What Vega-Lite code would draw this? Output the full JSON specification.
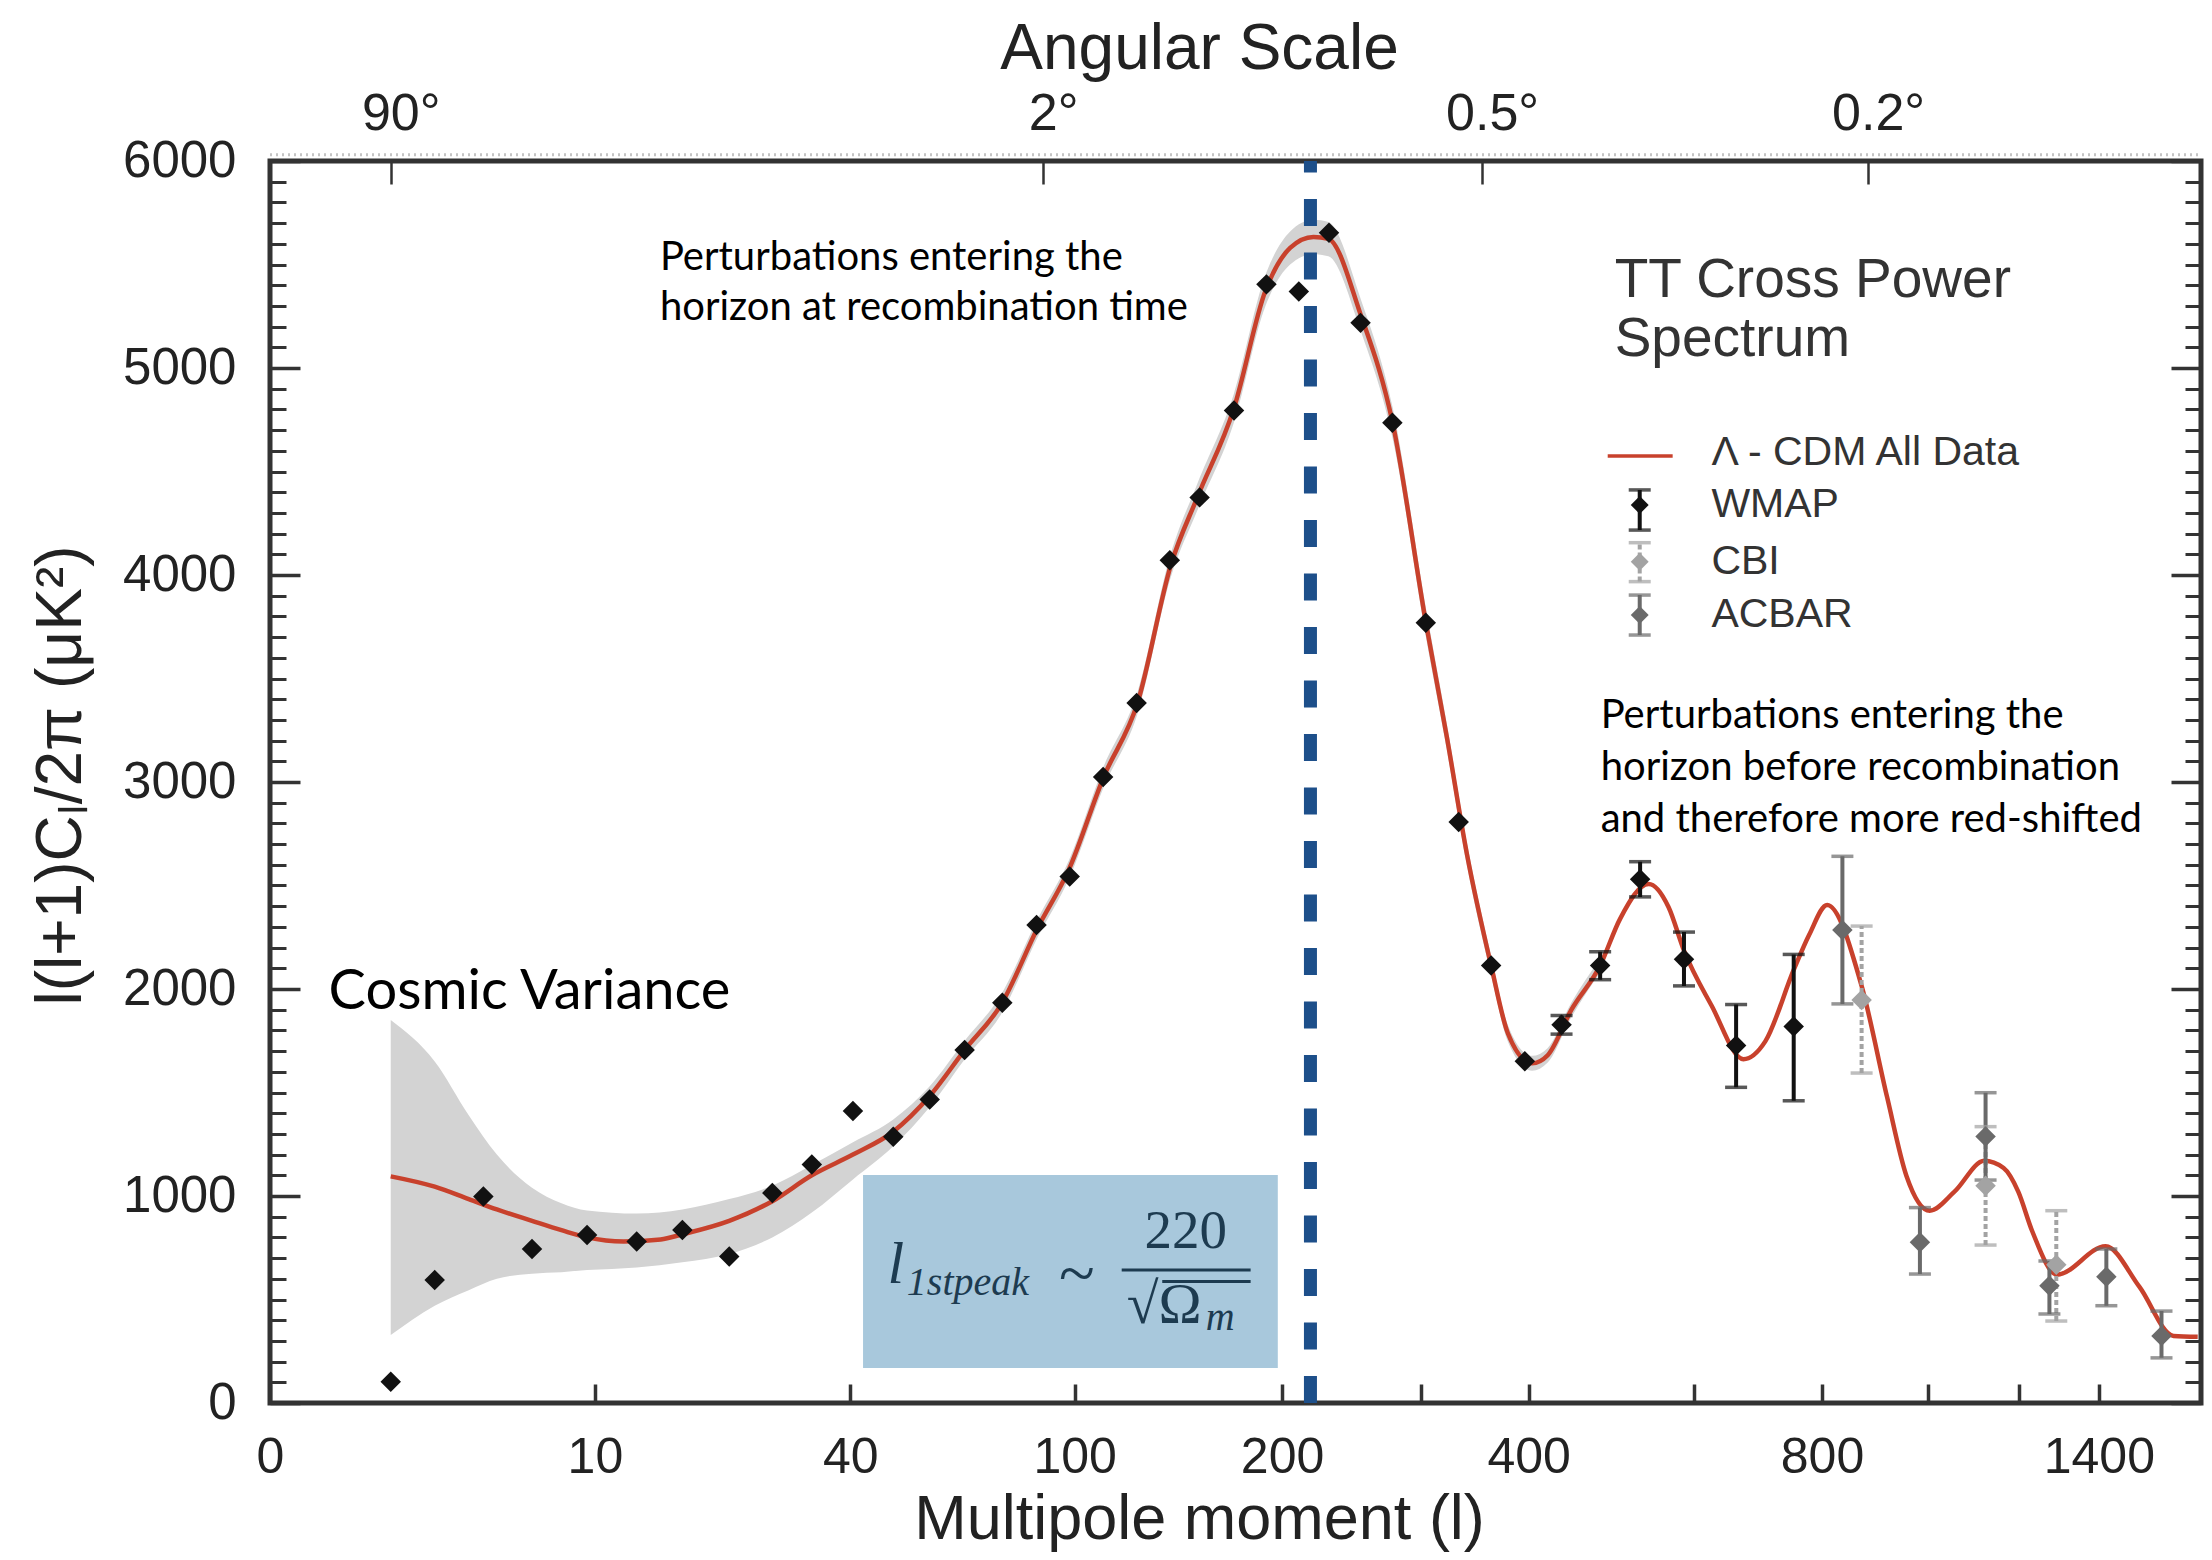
{
  "$schema": "https://vega.github.io/schema/vega-lite/v6.json",
  "width": 1931,
  "height": 1242,
  "autosize": {"type": "none"},
  "padding": {"left": 270, "top": 161, "right": 11, "bottom": 157},
  "background": "white",
  "config": {
    "view": {"stroke": "#333333", "strokeWidth": 5},
    "axis": {"grid": false, "domain": false, "labelFont": "Liberation Sans", "titleFont": "Liberation Sans", "labelColor": "#222222", "titleColor": "#222222", "tickColor": "#333333", "labelOverlap": false, "labelFlush": false, "titleFontWeight": "normal"}
  },
  "datasets": {
    "theory": [
      {"l": 2, "v": 1095}, {"l": 3, "v": 1045}, {"l": 4, "v": 985}, {"l": 5, "v": 935}, {"l": 6.5, "v": 880},
      {"l": 8, "v": 835}, {"l": 9.5, "v": 800}, {"l": 12, "v": 780}, {"l": 15, "v": 790}, {"l": 17, "v": 815},
      {"l": 22, "v": 880}, {"l": 27.5, "v": 975}, {"l": 33.4, "v": 1100}, {"l": 40.5, "v": 1200}, {"l": 48.5, "v": 1311},
      {"l": 56.7, "v": 1483}, {"l": 65.5, "v": 1705}, {"l": 76, "v": 1932}, {"l": 87, "v": 2290}, {"l": 98, "v": 2580},
      {"l": 111, "v": 3024}, {"l": 125, "v": 3382}, {"l": 140, "v": 4048}, {"l": 153, "v": 4379}, {"l": 172, "v": 4804},
      {"l": 190, "v": 5373}, {"l": 205, "v": 5580}, {"l": 220, "v": 5633}, {"l": 230, "v": 5624}, {"l": 253, "v": 5253},
      {"l": 277, "v": 4735}, {"l": 304, "v": 3769}, {"l": 322, "v": 3217}, {"l": 340, "v": 2650}, {"l": 362.6, "v": 2113},
      {"l": 379, "v": 1785}, {"l": 403.5, "v": 1641}, {"l": 420, "v": 1680}, {"l": 446, "v": 1900}, {"l": 479, "v": 2113},
      {"l": 503, "v": 2339}, {"l": 539, "v": 2507}, {"l": 565, "v": 2396}, {"l": 586, "v": 2186}, {"l": 625, "v": 1919},
      {"l": 672, "v": 1661}, {"l": 706, "v": 1747}, {"l": 752, "v": 2092}, {"l": 778, "v": 2262}, {"l": 809, "v": 2406},
      {"l": 871, "v": 2015}, {"l": 919, "v": 1479}, {"l": 957, "v": 1097}, {"l": 1004, "v": 929}, {"l": 1056, "v": 1021},
      {"l": 1121, "v": 1170}, {"l": 1165, "v": 1135}, {"l": 1199, "v": 1021}, {"l": 1232, "v": 831}, {"l": 1293, "v": 620},
      {"l": 1418, "v": 757}, {"l": 1510, "v": 562}, {"l": 1608, "v": 324}, {"l": 1680, "v": 320}
    ],
    "band": [
      {"l": 2, "lo": 328, "hi": 1850}, {"l": 3, "lo": 470, "hi": 1650}, {"l": 4, "lo": 545, "hi": 1390}, {"l": 5, "lo": 600, "hi": 1200},
      {"l": 6.5, "lo": 625, "hi": 1040}, {"l": 8, "lo": 632, "hi": 965}, {"l": 9.5, "lo": 642, "hi": 930}, {"l": 13, "lo": 655, "hi": 915},
      {"l": 17, "lo": 680, "hi": 935}, {"l": 22, "lo": 720, "hi": 985}, {"l": 27.5, "lo": 800, "hi": 1050}, {"l": 33.4, "lo": 920, "hi": 1150},
      {"l": 40.5, "lo": 1080, "hi": 1260}, {"l": 48.5, "lo": 1240, "hi": 1370}, {"l": 56.7, "lo": 1430, "hi": 1530}, {"l": 65.5, "lo": 1660, "hi": 1750},
      {"l": 76, "lo": 1885, "hi": 1980}, {"l": 87, "lo": 2245, "hi": 2335}, {"l": 98, "lo": 2535, "hi": 2625}, {"l": 111, "lo": 2975, "hi": 3075},
      {"l": 125, "lo": 3330, "hi": 3435}, {"l": 140, "lo": 3990, "hi": 4105}, {"l": 153, "lo": 4315, "hi": 4445}, {"l": 172, "lo": 4735, "hi": 4875},
      {"l": 190, "lo": 5300, "hi": 5450}, {"l": 205, "lo": 5500, "hi": 5660}, {"l": 220, "lo": 5550, "hi": 5716}, {"l": 230, "lo": 5540, "hi": 5705},
      {"l": 253, "lo": 5175, "hi": 5330}, {"l": 277, "lo": 4660, "hi": 4810}, {"l": 304, "lo": 3700, "hi": 3840}, {"l": 322, "lo": 3155, "hi": 3280},
      {"l": 340, "lo": 2595, "hi": 2705}, {"l": 362.6, "lo": 2065, "hi": 2160}, {"l": 379, "lo": 1745, "hi": 1825}, {"l": 403.5, "lo": 1605, "hi": 1677},
      {"l": 420, "lo": 1645, "hi": 1715}, {"l": 446, "lo": 1865, "hi": 1935}, {"l": 479, "lo": 2080, "hi": 2146}
    ],
    "pts": [
      {"exp": "WMAP", "l": 2, "v": 103}, {"exp": "WMAP", "l": 3, "v": 594}, {"exp": "WMAP", "l": 4.5, "v": 997},
      {"exp": "WMAP", "l": 6.5, "v": 744}, {"exp": "WMAP", "l": 9.5, "v": 812}, {"exp": "WMAP", "l": 13, "v": 780},
      {"exp": "WMAP", "l": 17, "v": 836}, {"exp": "WMAP", "l": 22, "v": 708}, {"exp": "WMAP", "l": 27.5, "v": 1014},
      {"exp": "WMAP", "l": 33.4, "v": 1152}, {"exp": "WMAP", "l": 40.5, "v": 1411}, {"exp": "WMAP", "l": 48.5, "v": 1286},
      {"exp": "WMAP", "l": 56.7, "v": 1466}, {"exp": "WMAP", "l": 65.5, "v": 1705}, {"exp": "WMAP", "l": 76.1, "v": 1934},
      {"exp": "WMAP", "l": 86.8, "v": 2309}, {"exp": "WMAP", "l": 98.2, "v": 2543}, {"exp": "WMAP", "l": 110.8, "v": 3024},
      {"exp": "WMAP", "l": 124.6, "v": 3382}, {"exp": "WMAP", "l": 139.5, "v": 4071}, {"exp": "WMAP", "l": 154, "v": 4375},
      {"exp": "WMAP", "l": 172.1, "v": 4795}, {"exp": "WMAP", "l": 190.6, "v": 5404}, {"exp": "WMAP", "l": 210.5, "v": 5370},
      {"exp": "WMAP", "l": 230.4, "v": 5653}, {"exp": "WMAP", "l": 252.7, "v": 5218}, {"exp": "WMAP", "l": 276.8, "v": 4735},
      {"exp": "WMAP", "l": 303.9, "v": 3769}, {"exp": "WMAP", "l": 332.5, "v": 2807}, {"exp": "WMAP", "l": 362.6, "v": 2113},
      {"exp": "WMAP", "l": 396, "v": 1651},
      {"exp": "WMAP", "l": 435, "v": 1827, "lo": 1782, "hi": 1872}, {"exp": "WMAP", "l": 479, "v": 2113, "lo": 2045, "hi": 2180},
      {"exp": "WMAP", "l": 528, "v": 2530, "lo": 2445, "hi": 2615}, {"exp": "WMAP", "l": 586, "v": 2144, "lo": 2015, "hi": 2275},
      {"exp": "WMAP", "l": 661, "v": 1727, "lo": 1525, "hi": 1925}, {"exp": "WMAP", "l": 752, "v": 1819, "lo": 1460, "hi": 2167},
      {"exp": "ACBAR", "l": 836, "v": 2285, "lo": 1928, "hi": 2641}, {"exp": "CBI", "l": 871, "v": 1947, "lo": 1594, "hi": 2304},
      {"exp": "ACBAR", "l": 984, "v": 776, "lo": 623, "hi": 944}, {"exp": "CBI", "l": 1124, "v": 1049, "lo": 763, "hi": 1335},
      {"exp": "ACBAR", "l": 1124, "v": 1288, "lo": 1077, "hi": 1499}, {"exp": "ACBAR", "l": 1274, "v": 566, "lo": 430, "hi": 686},
      {"exp": "CBI", "l": 1291, "v": 668, "lo": 396, "hi": 929}, {"exp": "ACBAR", "l": 1420, "v": 610, "lo": 470, "hi": 744},
      {"exp": "ACBAR", "l": 1573, "v": 324, "lo": 218, "hi": 444}
    ],
    "legsym": [
      {"exp": "WMAP", "l": 527.5, "v": 4338, "lo": 4217, "hi": 4411},
      {"exp": "CBI", "l": 527.5, "v": 4064, "lo": 3968, "hi": 4156},
      {"exp": "ACBAR", "l": 527.5, "v": 3807, "lo": 3710, "hi": 3903}
    ],
    "legtext": [
      {"l": 624.6, "v": 4589, "text": "Λ - CDM All Data"},
      {"l": 624.6, "v": 4338, "text": "WMAP"},
      {"l": 624.6, "v": 4064, "text": "CBI"},
      {"l": 624.6, "v": 3807, "text": "ACBAR"}
    ]
  },
  "resolve": {"axis": {"x": "independent", "y": "independent"}},
  "layer": [
    {
      "data": {"values": [{"l1": 0.5, "l2": 1690, "v": 6030}]},
      "mark": {"type": "rule", "color": "#c4c4c4", "strokeWidth": 3, "strokeDash": [2, 4]},
      "encoding": {
        "x": {"field": "l1", "type": "quantitative", "scale": {"type": "pow", "exponent": 0.25, "domain": [0.5, 1690], "nice": false, "zero": false}, "axis": null},
        "x2": {"field": "l2"},
        "y": {"field": "v", "type": "quantitative", "scale": {"domain": [0, 6000], "nice": false, "zero": false}, "axis": null}
      }
    },
    {
      "data": {"name": "band"},
      "mark": {"type": "area", "color": "#d3d3d3", "interpolate": "monotone"},
      "encoding": {
        "x": {"field": "l", "type": "quantitative", "scale": {"type": "pow", "exponent": 0.25, "domain": [0.5, 1690], "nice": false, "zero": false},
          "axis": {"orient": "bottom", "values": [0.5, 10, 40, 100, 200, 300, 400, 600, 800, 1000, 1200, 1400], "format": "d",
            "labelExpr": "datum.value < 1 ? '0' : (datum.value == 300 || datum.value == 600 || datum.value == 1000 || datum.value == 1200) ? '' : datum.label",
            "tickSize": -19, "tickWidth": 3.5, "labelPadding": 48, "labelFontSize": 50,
            "title": "Multipole moment (l)", "titleFontSize": 63, "titleX": 929, "titleY": 135, "titleBaseline": "alphabetic", "titleAlign": "center"}},
        "y": {"field": "lo", "type": "quantitative", "scale": {"domain": [0, 6000], "nice": false, "zero": false},
          "axis": {"orient": "left", "values": [0, 1000, 2000, 3000, 4000, 5000, 6000], "format": "d", "tickSize": -30, "tickWidth": 3.5, "labelPadding": 64, "labelFontSize": 51,
            "title": "l(l+1)Cₗ/2π (μK²)", "titleFontSize": 64, "titleX": -190, "titleY": 614, "titleAngle": -90, "titleBaseline": "alphabetic", "titleAlign": "center"}},
        "y2": {"field": "hi"}
      }
    },
    {
      "data": {"name": "theory"},
      "mark": {"type": "line", "color": "#c8412c", "strokeWidth": 4.5, "interpolate": "monotone"},
      "encoding": {
        "x": {"field": "l", "type": "quantitative", "scale": {"type": "pow", "exponent": 0.25, "domain": [0.5, 1690], "nice": false, "zero": false},
          "axis": {"orient": "top", "values": [2, 89, 354, 883],
            "labelExpr": "datum.value == 2 ? '90°' : datum.value == 89 ? '2°' : datum.value == 354 ? '0.5°' : '0.2°'",
            "tickSize": -23, "tickWidth": 2.5, "labelPadding": 44, "labelFontSize": 52, "labelOffset": 10,
            "title": "Angular Scale", "titleFontSize": 64, "titleX": 929, "titleY": -93, "titleBaseline": "alphabetic", "titleAlign": "center"}},
        "y": {"field": "v", "type": "quantitative", "scale": {"domain": [0, 6000], "nice": false, "zero": false},
          "axis": {"orient": "left", "values": [100,200,300,400,500,600,700,800,900,1100,1200,1300,1400,1500,1600,1700,1800,1900,2100,2200,2300,2400,2500,2600,2700,2800,2900,3100,3200,3300,3400,3500,3600,3700,3800,3900,4100,4200,4300,4400,4500,4600,4700,4800,4900,5100,5200,5300,5400,5500,5600,5700,5800,5900],
            "labels": false, "tickSize": -16, "tickWidth": 3, "title": null}}
      }
    },
    {
      "data": {"name": "pts"},
      "mark": {"type": "rule", "strokeWidth": 4},
      "encoding": {
        "x": {"field": "l", "type": "quantitative", "scale": {"type": "pow", "exponent": 0.25, "domain": [0.5, 1690], "nice": false, "zero": false}, "axis": null},
        "y": {"field": "lo", "type": "quantitative", "scale": {"domain": [0, 6000], "nice": false, "zero": false},
          "axis": {"orient": "right", "values": [0, 1000, 2000, 3000, 4000, 5000, 6000], "labels": false, "tickSize": -30, "tickWidth": 3.5, "title": null}},
        "y2": {"field": "hi"},
        "color": {"field": "exp", "type": "nominal", "scale": {"domain": ["WMAP", "CBI", "ACBAR"], "range": ["#111111", "#a3a3a3", "#6a6a6a"]}, "legend": null},
        "strokeDash": {"field": "exp", "type": "nominal", "scale": {"domain": ["WMAP", "CBI", "ACBAR"], "range": [[1, 0], [5, 3], [1, 0]]}, "legend": null}
      }
    },
    {
      "data": {"name": "pts"},
      "mark": {"type": "tick", "orient": "horizontal", "size": 22, "thickness": 3.5},
      "encoding": {
        "x": {"field": "l", "type": "quantitative", "scale": {"type": "pow", "exponent": 0.25, "domain": [0.5, 1690], "nice": false, "zero": false}, "axis": null},
        "y": {"field": "hi", "type": "quantitative", "scale": {"domain": [0, 6000], "nice": false, "zero": false},
          "axis": {"orient": "right", "values": [100,200,300,400,500,600,700,800,900,1100,1200,1300,1400,1500,1600,1700,1800,1900,2100,2200,2300,2400,2500,2600,2700,2800,2900,3100,3200,3300,3400,3500,3600,3700,3800,3900,4100,4200,4300,4400,4500,4600,4700,4800,4900,5100,5200,5300,5400,5500,5600,5700,5800,5900],
            "labels": false, "tickSize": -16, "tickWidth": 3, "title": null}},
        "color": {"field": "exp", "type": "nominal", "scale": {"domain": ["WMAP", "CBI", "ACBAR"], "range": ["#111111", "#a3a3a3", "#6a6a6a"]}, "legend": null}
      }
    },
    {
      "data": {"name": "pts"},
      "mark": {"type": "tick", "orient": "horizontal", "size": 22, "thickness": 3.5},
      "encoding": {
        "x": {"field": "l", "type": "quantitative", "scale": {"type": "pow", "exponent": 0.25, "domain": [0.5, 1690], "nice": false, "zero": false}, "axis": null},
        "y": {"field": "lo", "type": "quantitative", "scale": {"domain": [0, 6000], "nice": false, "zero": false}, "axis": null},
        "color": {"field": "exp", "type": "nominal", "scale": {"domain": ["WMAP", "CBI", "ACBAR"], "range": ["#111111", "#a3a3a3", "#6a6a6a"]}, "legend": null}
      }
    },
    {
      "data": {"name": "pts"},
      "mark": {"type": "point", "shape": "diamond", "filled": true, "size": 420, "opacity": 1},
      "encoding": {
        "x": {"field": "l", "type": "quantitative", "scale": {"type": "pow", "exponent": 0.25, "domain": [0.5, 1690], "nice": false, "zero": false}, "axis": null},
        "y": {"field": "v", "type": "quantitative", "scale": {"domain": [0, 6000], "nice": false, "zero": false}, "axis": null},
        "color": {"field": "exp", "type": "nominal", "scale": {"domain": ["WMAP", "CBI", "ACBAR"], "range": ["#111111", "#a3a3a3", "#6a6a6a"]}, "legend": null}
      }
    },
    {
      "data": {"values": [{"l": 218, "v0": 0, "v1": 6000}]},
      "mark": {"type": "rule", "color": "#1d4f8a", "strokeWidth": 13, "strokeDash": [27, 26.5]},
      "encoding": {
        "x": {"field": "l", "type": "quantitative", "scale": {"type": "pow", "exponent": 0.25, "domain": [0.5, 1690], "nice": false, "zero": false}, "axis": null},
        "y": {"field": "v0", "type": "quantitative", "scale": {"domain": [0, 6000], "nice": false, "zero": false}, "axis": null},
        "y2": {"field": "v1"}
      }
    },
    {
      "data": {"values": [{"l1": 42.4, "l2": 197.4, "v1": 169, "v2": 1101}]},
      "mark": {"type": "rect", "color": "#a8c8dc"},
      "encoding": {
        "x": {"field": "l1", "type": "quantitative", "scale": {"type": "pow", "exponent": 0.25, "domain": [0.5, 1690], "nice": false, "zero": false}, "axis": null},
        "x2": {"field": "l2"},
        "y": {"field": "v1", "type": "quantitative", "scale": {"domain": [0, 6000], "nice": false, "zero": false}, "axis": null},
        "y2": {"field": "v2"}
      }
    },
    {
      "data": {"values": [{"l1": 118.3, "l2": 181.4, "v": 643}, {"l1": 136, "l2": 181.4, "v": 587}]},
      "mark": {"type": "rule", "color": "#1d3b50", "strokeWidth": 3},
      "encoding": {
        "x": {"field": "l1", "type": "quantitative", "scale": {"type": "pow", "exponent": 0.25, "domain": [0.5, 1690], "nice": false, "zero": false}, "axis": null},
        "x2": {"field": "l2"},
        "y": {"field": "v", "type": "quantitative", "scale": {"domain": [0, 6000], "nice": false, "zero": false}, "axis": null}
      }
    },
    {
      "data": {"values": [{"l": 49.05, "v": 580, "text": "l"}]},
      "mark": {"type": "text", "font": "Liberation Serif", "fontStyle": "italic", "fontSize": 60, "color": "#1d3b50", "align": "center", "baseline": "alphabetic"},
      "encoding": {
        "x": {"field": "l", "type": "quantitative", "scale": {"type": "pow", "exponent": 0.25, "domain": [0.5, 1690], "nice": false, "zero": false}, "axis": null},
        "y": {"field": "v", "type": "quantitative", "scale": {"domain": [0, 6000], "nice": false, "zero": false}, "axis": null},
        "text": {"field": "text"}
      }
    },
    {
      "data": {"values": [{"l": 51.44, "v": 522, "text": "1stpeak"}, {"l": 157.1, "v": 353, "text": "m"}]},
      "mark": {"type": "text", "font": "Liberation Serif", "fontStyle": "italic", "fontSize": 40, "color": "#1d3b50", "align": "left", "baseline": "alphabetic"},
      "encoding": {
        "x": {"field": "l", "type": "quantitative", "scale": {"type": "pow", "exponent": 0.25, "domain": [0.5, 1690], "nice": false, "zero": false}, "axis": null},
        "y": {"field": "v", "type": "quantitative", "scale": {"domain": [0, 6000], "nice": false, "zero": false}, "axis": null},
        "text": {"field": "text"}
      }
    },
    {
      "data": {"values": [{"l": 100.8, "v": 620, "text": "~"}]},
      "mark": {"type": "text", "font": "Liberation Serif", "fontSize": 66, "color": "#1d3b50", "align": "center", "baseline": "middle"},
      "encoding": {
        "x": {"field": "l", "type": "quantitative", "scale": {"type": "pow", "exponent": 0.25, "domain": [0.5, 1690], "nice": false, "zero": false}, "axis": null},
        "y": {"field": "v", "type": "quantitative", "scale": {"domain": [0, 6000], "nice": false, "zero": false}, "axis": null},
        "text": {"field": "text"}
      }
    },
    {
      "data": {"values": [{"l": 147.1, "v": 749, "text": "220"}]},
      "mark": {"type": "text", "font": "Liberation Serif", "fontSize": 55, "color": "#1d3b50", "align": "center", "baseline": "alphabetic"},
      "encoding": {
        "x": {"field": "l", "type": "quantitative", "scale": {"type": "pow", "exponent": 0.25, "domain": [0.5, 1690], "nice": false, "zero": false}, "axis": null},
        "y": {"field": "v", "type": "quantitative", "scale": {"domain": [0, 6000], "nice": false, "zero": false}, "axis": null},
        "text": {"field": "text"}
      }
    },
    {
      "data": {"values": [{"l": 120.4, "v": 386, "text": "√Ω"}]},
      "mark": {"type": "text", "font": "Liberation Serif", "fontSize": 58, "color": "#1d3b50", "align": "left", "baseline": "alphabetic"},
      "encoding": {
        "x": {"field": "l", "type": "quantitative", "scale": {"type": "pow", "exponent": 0.25, "domain": [0.5, 1690], "nice": false, "zero": false}, "axis": null},
        "y": {"field": "v", "type": "quantitative", "scale": {"domain": [0, 6000], "nice": false, "zero": false}, "axis": null},
        "text": {"field": "text"}
      }
    },
    {
      "data": {"values": [
        {"l": 14.93, "v": 5473, "text": "Perturbations entering the"},
        {"l": 14.93, "v": 5232, "text": "horizon at recombination time"},
        {"l": 479.6, "v": 3262, "text": "Perturbations entering the"},
        {"l": 479.6, "v": 3011, "text": "horizon before recombination"},
        {"l": 479.6, "v": 2760, "text": "and therefore more red-shifted"}
      ]},
      "mark": {"type": "text", "font": "Lato", "fontSize": 40, "color": "#000000", "align": "left", "baseline": "alphabetic"},
      "encoding": {
        "x": {"field": "l", "type": "quantitative", "scale": {"type": "pow", "exponent": 0.25, "domain": [0.5, 1690], "nice": false, "zero": false}, "axis": null},
        "y": {"field": "v", "type": "quantitative", "scale": {"domain": [0, 6000], "nice": false, "zero": false}, "axis": null},
        "text": {"field": "text"}
      }
    },
    {
      "data": {"values": [{"l": 1.04, "v": 1903, "text": "Cosmic Variance"}]},
      "mark": {"type": "text", "font": "Lato", "fontSize": 56, "color": "#000000", "align": "left", "baseline": "alphabetic"},
      "encoding": {
        "x": {"field": "l", "type": "quantitative", "scale": {"type": "pow", "exponent": 0.25, "domain": [0.5, 1690], "nice": false, "zero": false}, "axis": null},
        "y": {"field": "v", "type": "quantitative", "scale": {"domain": [0, 6000], "nice": false, "zero": false}, "axis": null},
        "text": {"field": "text"}
      }
    },
    {
      "data": {"values": [{"l": 496.4, "v": 5345, "text": "TT Cross Power"}, {"l": 496.4, "v": 5058, "text": "Spectrum"}]},
      "mark": {"type": "text", "font": "Liberation Sans", "fontSize": 55, "color": "#333333", "align": "left", "baseline": "alphabetic"},
      "encoding": {
        "x": {"field": "l", "type": "quantitative", "scale": {"type": "pow", "exponent": 0.25, "domain": [0.5, 1690], "nice": false, "zero": false}, "axis": null},
        "y": {"field": "v", "type": "quantitative", "scale": {"domain": [0, 6000], "nice": false, "zero": false}, "axis": null},
        "text": {"field": "text"}
      }
    },
    {
      "data": {"name": "legtext"},
      "mark": {"type": "text", "font": "Liberation Sans", "fontSize": 41, "color": "#333333", "align": "left", "baseline": "middle"},
      "encoding": {
        "x": {"field": "l", "type": "quantitative", "scale": {"type": "pow", "exponent": 0.25, "domain": [0.5, 1690], "nice": false, "zero": false}, "axis": null},
        "y": {"field": "v", "type": "quantitative", "scale": {"domain": [0, 6000], "nice": false, "zero": false}, "axis": null},
        "text": {"field": "text"}
      }
    },
    {
      "data": {"values": [{"l1": 488, "l2": 570.6, "v": 4575}]},
      "mark": {"type": "rule", "color": "#c8412c", "strokeWidth": 3.5},
      "encoding": {
        "x": {"field": "l1", "type": "quantitative", "scale": {"type": "pow", "exponent": 0.25, "domain": [0.5, 1690], "nice": false, "zero": false}, "axis": null},
        "x2": {"field": "l2"},
        "y": {"field": "v", "type": "quantitative", "scale": {"domain": [0, 6000], "nice": false, "zero": false}, "axis": null}
      }
    },
    {
      "data": {"name": "legsym"},
      "mark": {"type": "rule", "strokeWidth": 4},
      "encoding": {
        "x": {"field": "l", "type": "quantitative", "scale": {"type": "pow", "exponent": 0.25, "domain": [0.5, 1690], "nice": false, "zero": false}, "axis": null},
        "y": {"field": "lo", "type": "quantitative", "scale": {"domain": [0, 6000], "nice": false, "zero": false}, "axis": null},
        "y2": {"field": "hi"},
        "color": {"field": "exp", "type": "nominal", "scale": {"domain": ["WMAP", "CBI", "ACBAR"], "range": ["#111111", "#a3a3a3", "#6a6a6a"]}, "legend": null},
        "strokeDash": {"field": "exp", "type": "nominal", "scale": {"domain": ["WMAP", "CBI", "ACBAR"], "range": [[1, 0], [5, 3], [1, 0]]}, "legend": null}
      }
    },
    {
      "data": {"name": "legsym"},
      "mark": {"type": "tick", "orient": "horizontal", "size": 22, "thickness": 3.5},
      "encoding": {
        "x": {"field": "l", "type": "quantitative", "scale": {"type": "pow", "exponent": 0.25, "domain": [0.5, 1690], "nice": false, "zero": false}, "axis": null},
        "y": {"field": "hi", "type": "quantitative", "scale": {"domain": [0, 6000], "nice": false, "zero": false}, "axis": null},
        "color": {"field": "exp", "type": "nominal", "scale": {"domain": ["WMAP", "CBI", "ACBAR"], "range": ["#111111", "#a3a3a3", "#6a6a6a"]}, "legend": null}
      }
    },
    {
      "data": {"name": "legsym"},
      "mark": {"type": "tick", "orient": "horizontal", "size": 22, "thickness": 3.5},
      "encoding": {
        "x": {"field": "l", "type": "quantitative", "scale": {"type": "pow", "exponent": 0.25, "domain": [0.5, 1690], "nice": false, "zero": false}, "axis": null},
        "y": {"field": "lo", "type": "quantitative", "scale": {"domain": [0, 6000], "nice": false, "zero": false}, "axis": null},
        "color": {"field": "exp", "type": "nominal", "scale": {"domain": ["WMAP", "CBI", "ACBAR"], "range": ["#111111", "#a3a3a3", "#6a6a6a"]}, "legend": null}
      }
    },
    {
      "data": {"name": "legsym"},
      "mark": {"type": "point", "shape": "diamond", "filled": true, "size": 320, "opacity": 1},
      "encoding": {
        "x": {"field": "l", "type": "quantitative", "scale": {"type": "pow", "exponent": 0.25, "domain": [0.5, 1690], "nice": false, "zero": false}, "axis": null},
        "y": {"field": "v", "type": "quantitative", "scale": {"domain": [0, 6000], "nice": false, "zero": false}, "axis": null},
        "color": {"field": "exp", "type": "nominal", "scale": {"domain": ["WMAP", "CBI", "ACBAR"], "range": ["#111111", "#a3a3a3", "#6a6a6a"]}, "legend": null}
      }
    }
  ]
}
